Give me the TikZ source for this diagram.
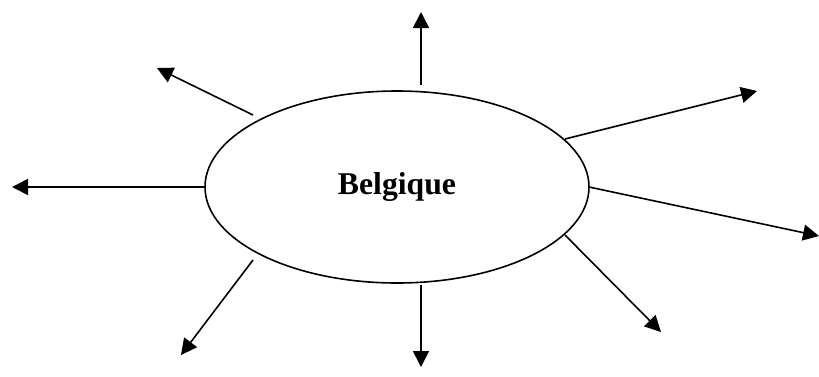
\documentclass[tikz,border=0pt]{standalone}
\usepackage{fontspec}
\setmainfont{Liberation Serif}
\usetikzlibrary{shapes.geometric,arrows.meta}
\begin{document}
\begin{tikzpicture}[x=1pt,y=-1pt,
  ray/.style={line width=1.6pt,-{Triangle[length=16pt,width=16pt]}},
  blob/.style={draw,ellipse,line width=1.6pt,minimum width=384pt,minimum height=192pt,inner sep=0pt,
    font=\fontsize{31.7}{38}\selectfont\bfseries}]
\useasboundingbox (0,0) rectangle (819,376);
\node[blob] (e) at (397,187) {Belgique};
% start points
\coordinate (s1) at (421,85);
\coordinate (s2) at (253,115);
\coordinate (s3) at (205,187);
\coordinate (s4) at (253,260);
\coordinate (s5) at (421,285);
\coordinate (s6) at (565,235);
\coordinate (s7) at (589,187);
\coordinate (s8) at (565,139);
% end points
\coordinate (t1) at (421,12);
\coordinate (t2) at (157,68);
\coordinate (t3) at (12,187);
\coordinate (t4) at (181,355);
\coordinate (t5) at (421,367);
\coordinate (t6) at (661,332);
\coordinate (t7) at (819,236);
\coordinate (t8) at (757,91);
\foreach \i in {1,...,8} {\draw[ray] (s\i) -- (t\i);}
\end{tikzpicture}
\end{document}
